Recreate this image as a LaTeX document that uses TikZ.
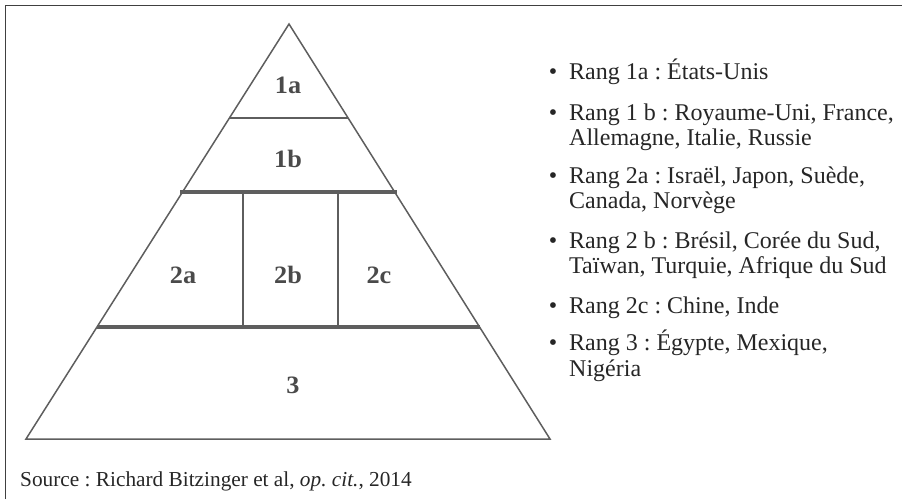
\documentclass[tikz,border=0pt]{standalone}
\usepackage{fontspec}
\setmainfont{Liberation Serif}
\newfontfamily\legfont{Liberation Serif}
\newfontfamily\labfont[FakeStretch=1.05]{Liberation Serif}
\frenchspacing
\definecolor{lineg}{HTML}{5E5E5E}
\definecolor{labg}{HTML}{4A4A4A}
\definecolor{txt}{HTML}{262626}
\begin{document}
\begin{tikzpicture}[x=1pt,y=-1pt,
  thin line/.style={draw=lineg,line width=1.5pt},
  thick line/.style={draw=lineg,line width=4.5pt},
  lev/.style={anchor=base,inner sep=0pt,text=labg,font=\labfont\fontsize{25}{25}\selectfont\bfseries},
  item/.style={anchor=base west,inner sep=0pt,text=txt,font=\legfont\fontsize{24}{25}\selectfont\frenchspacing},
  bul/.style={anchor=base,inner sep=0pt,text=txt,font=\legfont\fontsize{24}{25}\selectfont},
  srcstyle/.style={anchor=base west,inner sep=0pt,text=txt,font=\fontsize{21.3}{25}\selectfont\frenchspacing}]
\useasboundingbox (0,0) rectangle (902,499);
% frame
\draw[draw=black!75,line width=1.5pt] (5.5,499) -- (5.5,5.5) -- (902,5.5);
% pyramid
\coordinate (apex) at (289,24);
\coordinate (bl) at (26,439);
\coordinate (br) at (550,439);
\draw[thin line,line join=miter] (bl) -- (apex) -- (br) -- cycle;
\draw[thin line] (229,118) -- (348,118);
\draw[thin line] (243,192) -- (243,327);
\draw[thin line] (338,192) -- (338,327);
\draw[thick line] (180,192) -- (397,192);
\draw[thick line] (97,327) -- (480,327);
% level labels
\node[lev] (l1a) at (288,93) {1a};
\node[lev] (l1b) at (288,167) {1b};
\node[lev] (l2a) at (183,283) {2a};
\node[lev] (l2b) at (288,283) {2b};
\node[lev] (l2c) at (379,283) {2c};
\node[lev] (l3) at (293,393) {3};
% legend
\node[bul] (b1) at (553,79) {•};
\node[item] (t1) at (569,79) {Rang 1a : États-Unis};
\node[bul] (b2) at (553,120) {•};
\node[item] (t2) at (569,120) {Rang 1 b : Royaume-Uni, France,};
\node[item] (t2b) at (569,145) {Allemagne, Italie, Russie};
\node[bul] (b3) at (553,183) {•};
\node[item] (t3) at (569,183) {Rang 2a : Israël, Japon, Suède,};
\node[item] (t3b) at (569,208) {Canada, Norvège};
\node[bul] (b4) at (553,248) {•};
\node[item] (t4) at (569,248) {Rang 2 b : Brésil, Corée du Sud,};
\node[item] (t4b) at (569,273) {Taïwan, Turquie, Afrique du Sud};
\node[bul] (b5) at (553,313) {•};
\node[item] (t5) at (569,313) {Rang 2c : Chine, Inde};
\node[bul] (b6) at (553,350) {•};
\node[item] (t6) at (569,350) {Rang 3 : Égypte, Mexique,};
\node[item] (t6b) at (569,376) {Nigéria};
% source
\node[srcstyle] (src) at (20,486) {Source : Richard Bitzinger et al, \textit{op. cit.}, 2014};
\end{tikzpicture}
\end{document}
